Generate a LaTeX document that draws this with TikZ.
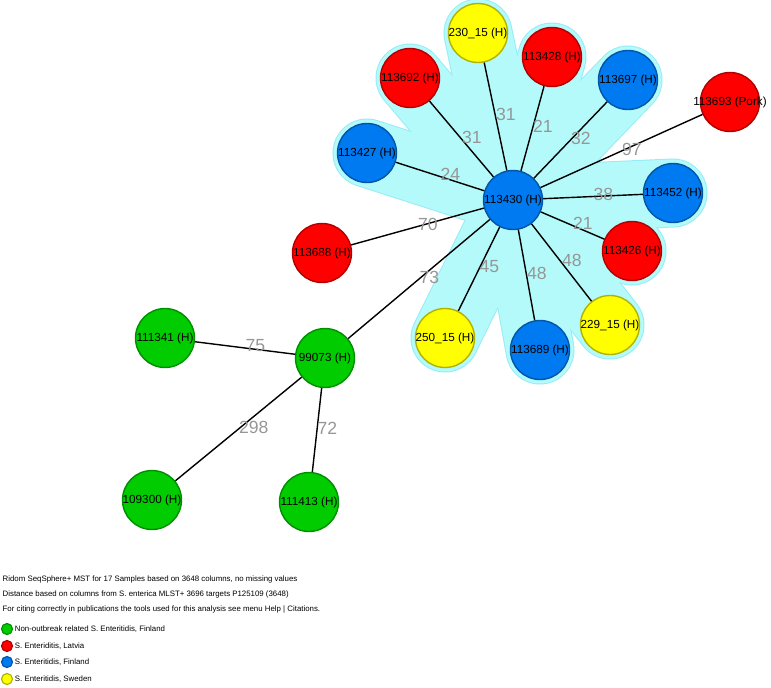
\documentclass[tikz,border=0pt]{standalone}
\usepackage{fontspec}
\setmainfont{Liberation Sans}
\usetikzlibrary{backgrounds}
\definecolor{mstred}{RGB}{255,0,0}
\definecolor{mstgreen}{RGB}{0,204,0}
\definecolor{mstblue}{RGB}{0,122,240}
\definecolor{mstyellow}{RGB}{255,255,0}
\definecolor{halocyan}{RGB}{180,250,250}
\definecolor{haloedge}{RGB}{150,236,246}
\definecolor{distgray}{RGB}{150,150,150}
\tikzset{
    sample/.style={circle, draw=#1!70!black, fill=#1, minimum size=1.77cm, inner sep=0pt, font=\fontsize{10}{12}\selectfont,
        execute at begin node={\hbox to 0pt\bgroup\hss}, execute at end node={\hss\egroup}},
    dist/.style={midway, anchor=west, inner sep=0pt, yshift=0.06cm, text=distgray, font=\fontsize{15}{18}\selectfont},
    halo/.style={#1, line width=2.07cm, line cap=round},
    legdot/.style={circle, draw=#1!70!black, fill=#1, minimum size=0.33cm, inner sep=0pt},
    legtext/.style={anchor=west, inner sep=0pt, font=\fontsize{6.7}{8}\selectfont},
}

\begin{document}
\begin{tikzpicture}[x=0.03cm, y=-0.03cm, line width=1.2pt]
    \useasboundingbox (0,0) rectangle (771,687);

    \node[sample=mstblue] (s113430) at (513,200) {113430 (H)};
    \node[sample=mstyellow] (s230) at (478,33) {230\_15 (H)};
    \node[sample=mstred] (s113428) at (552,57) {113428 (H)};
    \node[sample=mstred] (s113692) at (410,78) {113692 (H)};
    \node[sample=mstblue] (s113427) at (367,153) {113427 (H)};
    \node[sample=mstblue] (s113697) at (628,80) {113697 (H)};
    \node[sample=mstred] (s113693) at (730,102) {113693 (Pork)};
    \node[sample=mstblue] (s113452) at (673,193) {113452 (H)};
    \node[sample=mstred] (s113426) at (632,251) {113426 (H)};
    \node[sample=mstyellow] (s229) at (610,325) {229\_15 (H)};
    \node[sample=mstblue] (s113689) at (540,350) {113689 (H)};
    \node[sample=mstyellow] (s250) at (445,338) {250\_15 (H)};
    \node[sample=mstred] (s113688) at (322,253) {113688 (H)};
    \node[sample=mstgreen] (s99073) at (325,358) {99073 (H)};
    \node[sample=mstgreen] (s111341) at (165,338) {111341 (H)};
    \node[sample=mstgreen] (s109300) at (152,500) {109300 (H)};
    \node[sample=mstgreen] (s111413) at (309,502) {111413 (H)};

    \begin{scope}[on background layer]
        \foreach \s in {s230,s113428,s113692,s113427,s113697,s113452,s113426,s229,s113689,s250}
            \draw[halo=haloedge] (s113430.center) -- (\s.center);
        \foreach \s in {s230,s113428,s113692,s113427,s113697,s113452,s113426,s229,s113689,s250}
            \draw[halo=halocyan, line width=2.01cm] (s113430.center) -- (\s.center);
    \end{scope}

    \draw (s113430) -- node[dist] {31} (s230);
    \draw (s113430) -- node[dist] {21} (s113428);
    \draw (s113430) -- node[dist] {31} (s113692);
    \draw (s113430) -- node[dist] {24} (s113427);
    \draw (s113430) -- node[dist] {32} (s113697);
    \draw (s113430) -- node[dist] {97} (s113693);
    \draw (s113430) -- node[dist] {38} (s113452);
    \draw (s113430) -- node[dist] {21} (s113426);
    \draw (s113430) -- node[dist] {48} (s229);
    \draw (s113430) -- node[dist] {48} (s113689);
    \draw (s113430) -- node[dist] {45} (s250);
    \draw (s113430) -- node[dist] {70} (s113688);
    \draw (s113430) -- node[dist] {73} (s99073);
    \draw (s99073) -- node[dist] {75} (s111341);
    \draw (s99073) -- node[dist] {298} (s109300);
    \draw (s99073) -- node[dist] {72} (s111413);

    \node[legtext] (info1) at (2,579) {Ridom SeqSphere+ MST for 17 Samples based on 3648 columns, no missing values};
    \node[legtext] (info2) at (2,594) {Distance based on columns from S. enterica MLST+ 3696 targets P125109 (3648)};
    \node[legtext] (info3) at (2,609) {For citing correctly in publications the tools used for this analysis see menu Help | Citations.};
    \node[legdot=mstgreen, line width=1pt] (dgreen) at (7,629) {};
    \node[legdot=mstred, line width=1pt] (dred) at (7,646) {};
    \node[legdot=mstblue, line width=1pt] (dblue) at (7,662) {};
    \node[legdot=mstyellow, line width=1pt] (dyellow) at (7,679) {};
    \node[legtext, xshift=1pt] at (dgreen.east) {Non-outbreak related S. Enteritidis, Finland};
    \node[legtext, xshift=1pt] at (dred.east) {S. Enteriditis, Latvia};
    \node[legtext, xshift=1pt] at (dblue.east) {S. Enteritidis, Finland};
    \node[legtext, xshift=1pt] at (dyellow.east) {S. Enteritidis, Sweden};
\end{tikzpicture}
\end{document}
